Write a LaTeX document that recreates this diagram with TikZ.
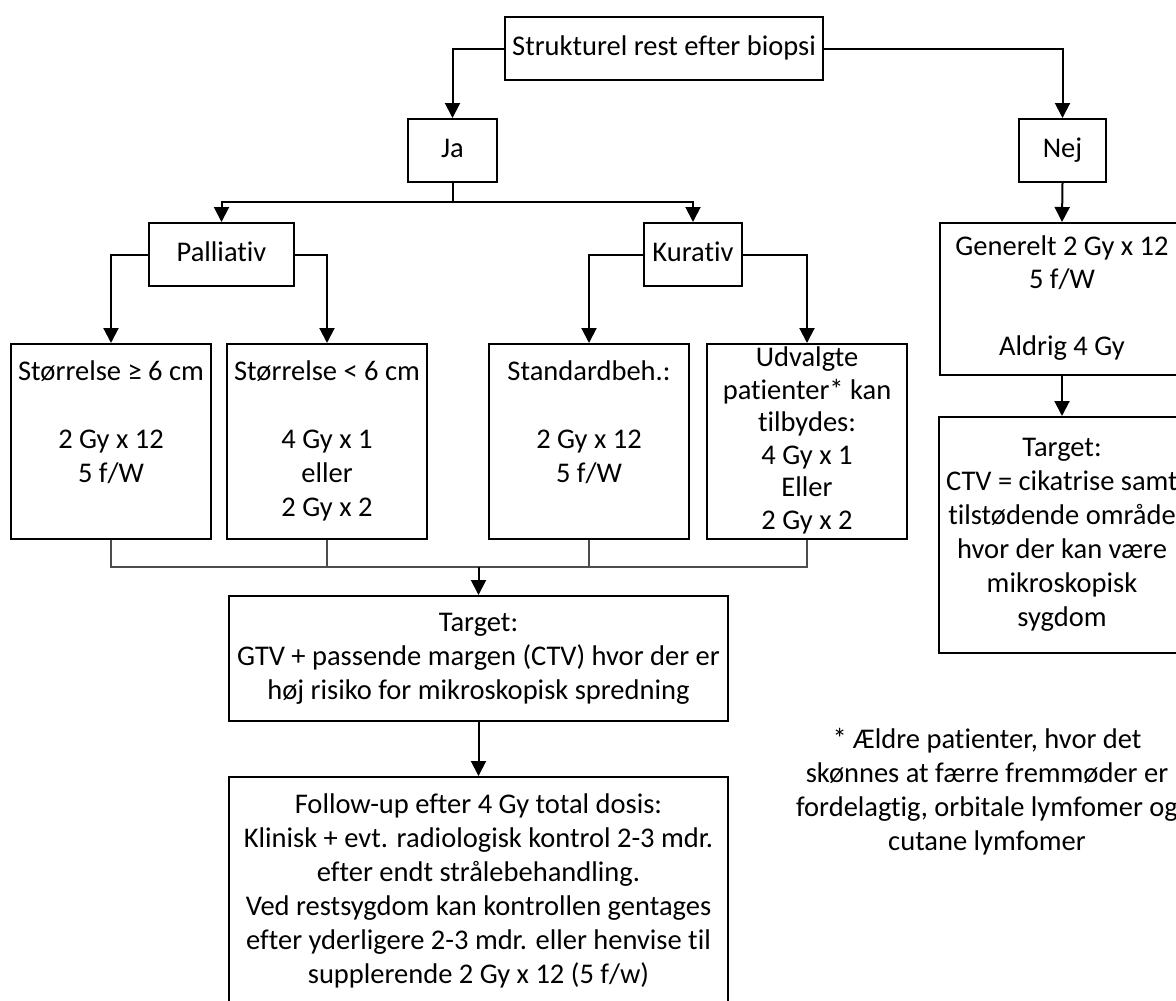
\documentclass[tikz,border=0pt]{standalone}
\usepackage{fontspec}
\setmainfont{Carlito}[Ligatures=NoCommon]
\usetikzlibrary{arrows.meta}
\tikzset{
  box/.style={draw, line width=2pt, inner sep=1pt, align=center, fill=white},
  arr/.style={line width=2pt, -{Triangle[width=15pt,length=15pt]}},
  con/.style={line width=2pt},
  mrg/.style={line width=2.2pt, draw=black!70},
}
\begin{document}
\begin{tikzpicture}[x=1pt, y=-1pt, font=\fontsize{28.5}{34}\selectfont]
\useasboundingbox (0,0) rectangle (1176,1001);
\clip (0,0) rectangle (1176,1001);
% boxes
\node[box, minimum width=318, minimum height=63] (top) at (664,48.5) {\strut Strukturel rest efter biopsi};
\node[box, minimum width=89, minimum height=63] (ja) at (452.5,150.5) {\strut Ja};
\node[box, minimum width=87, minimum height=63] (nej) at (1062.5,150.5) {\strut Nej};
\node[box, minimum width=145, minimum height=63] (pal) at (221.5,254.5) {\strut Palliativ};
\node[box, minimum width=98, minimum height=63] (kur) at (693,254.5) {\strut Kurativ};
\node[box, minimum width=244, minimum height=152, font=\fontsize{28.5}{33.5}\selectfont] (gen) at (1062,299) {\strut Generelt 2 Gy x 12\\ 5 f/W\\ \strut\\ Aldrig 4 Gy\strut};
\node[box, minimum width=200, minimum height=195] (b1) at (111,441.5) {\strut Størrelse ≥ 6 cm\\ \strut\\ 2 Gy x 12\\ 5 f/W\\ \strut};
\node[box, minimum width=200, minimum height=195] (b2) at (327,441.5) {\strut Størrelse < 6 cm\\ \strut\\ 4 Gy x 1\\ eller\\ 2 Gy x 2\strut};
\node[box, minimum width=200, minimum height=195] (b3) at (589,441.5) {\strut Standardbeh.:\\ \strut\\ 2 Gy x 12\\ 5 f/W\\ \strut};
\node[box, minimum width=200, minimum height=195, inner ysep=0pt, font=\fontsize{28.5}{32.5}\selectfont] (b4) at (807,441.5) {\strut Udvalgte\\ patienter* kan\\ tilbydes:\\ 4 Gy x 1\\ Eller\\ 2 Gy x 2\strut};
\node[box, minimum width=246, minimum height=236] (tr) at (1062,535) {\strut Target:\\ CTV = cikatrise samt\\ tilstødende område\\ hvor der kan være\\ mikroskopisk\\ sygdom\strut};
\node[box, minimum width=499, minimum height=125] (tm) at (478.5,658.5) {\strut Target:\\ GTV + passende margen (CTV) hvor der er\\ høj risiko for mikroskopisk spredning\strut};
\node[box, minimum width=499, minimum height=230] (fu) at (478.5,892) {\strut Follow-up efter 4 Gy total dosis:\\ Klinisk + evt. radiologisk kontrol 2-3 mdr.\\ efter endt strålebehandling.\\ Ved restsygdom kan kontrollen gentages\\ efter yderligere 2-3 mdr. eller henvise til\\ supplerende 2 Gy x 12 (5 f/w)\strut};
\node[align=center, inner sep=0pt] (note) at (987,793) {\strut * Ældre patienter, hvor det\\ skønnes at færre fremmøder er\\ fordelagtig, orbitale lymfomer og\\ cutane lymfomer\strut};
% connectors
\draw[arr] (top.west) -| (ja.north);
\draw[arr] (top.east) -| (nej.north);
\coordinate (jsplit) at (ja.south |- 0,202);
\draw[con] (ja.south) -- (jsplit);
\draw[arr] (jsplit) -| (pal.north);
\draw[arr] (jsplit) -| (kur.north);
\draw[arr] (pal.west) -| (b1.north);
\draw[arr] (pal.east) -| (b2.north);
\draw[arr] (kur.west) -| (b3.north);
\draw[arr] (kur.east) -| (b4.north);
\draw[arr] (nej.south) -- (gen.north);
\draw[arr] (gen.south) -- (tr.north);
\coordinate (merge) at (tm.north |- 0,567);
\draw[mrg] (b1.south) |- (merge);
\draw[mrg] (b4.south) |- (merge);
\draw[mrg] (b2.south) -- (b2.south |- merge);
\draw[mrg] (b3.south) -- (b3.south |- merge);
\draw[arr] (merge) -- (tm.north);
\draw[arr] (tm.south) -- (fu.north);
\end{tikzpicture}
\end{document}
